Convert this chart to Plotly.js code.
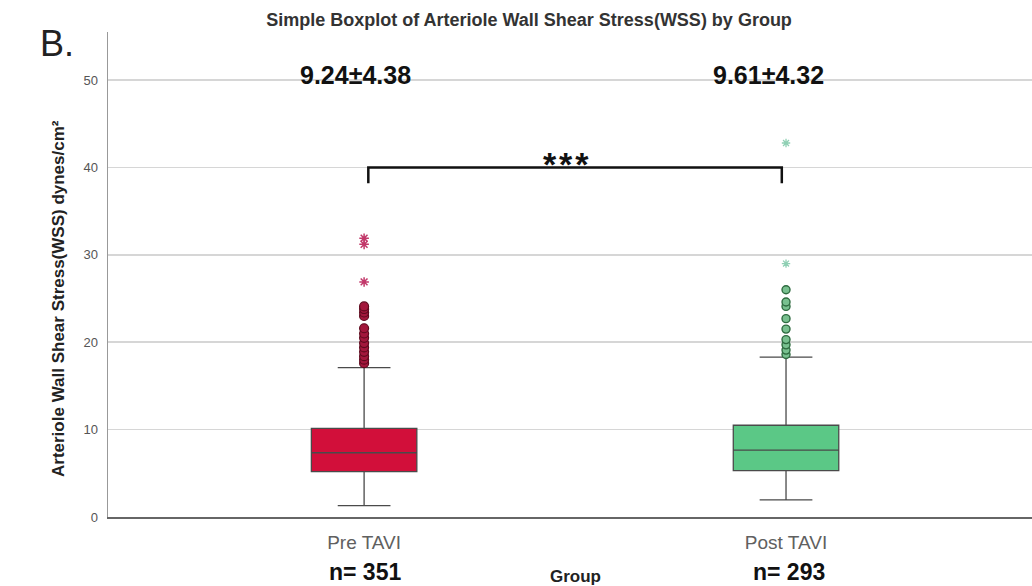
<!DOCTYPE html>
<html>
<head>
<meta charset="utf-8">
<script src="https://cdn.plot.ly/plotly-3.0.1.min.js"></script>
<style>html,body{margin:0;padding:0;background:#fff;}#chart{width:1032px;height:586px;}</style>
</head>
<body>
<div id="chart"></div>
<script>
// ---- data ----
const groups = ['Pre TAVI', 'Post TAVI'];
const q1 = [5.2, 5.3];
const medians = [7.35, 7.65];
const q3 = [10.15, 10.5];
const lowerWhisker = [1.3, 1.95];
const upperWhisker = [17.1, 18.3];
const preOutliers = [17.6, 18.0, 18.4, 18.9, 19.4, 19.9, 20.5, 21.0, 21.6, 23.0, 23.4, 23.8, 24.1];
const preExtremes = [26.9, 31.2, 31.9];
const postOutliers = [18.6, 19.1, 19.7, 20.3, 21.5, 22.7, 24.1, 24.6, 26.0];
const postExtremes = [29.0, 42.8];
const means = [9.24, 9.61];
const sds = [4.38, 4.32];
const ns = [351, 293];
const bracketY = 40;
const bracketTick = 38.2;

const fillColors = ['#d20f3a', '#5bc886'];

const traces = [];
groups.forEach((g, i) => {
  traces.push({
    type: 'box', x: [g], q1: [q1[i]], median: [medians[i]], q3: [q3[i]],
    lowerfence: [lowerWhisker[i]], upperfence: [upperWhisker[i]],
    width: 0.25, whiskerwidth: 0.5,
    fillcolor: fillColors[i], line: {color: '#4a4a4a', width: 1.3},
    boxpoints: false, hoverinfo: 'skip', showlegend: false
  });
});
traces.push({
  type: 'scatter', mode: 'markers', x: preOutliers.map(() => groups[0]), y: preOutliers,
  marker: {symbol: 'circle', size: 9, color: '#a3173c', line: {color: '#5e0a1e', width: 1.2}},
  showlegend: false, hoverinfo: 'skip'
});
traces.push({
  type: 'scatter', mode: 'markers', x: preExtremes.map(() => groups[0]), y: preExtremes,
  marker: {symbol: 'asterisk-open', size: 8, color: '#c2386a', line: {color: '#c2386a', width: 1.5}},
  showlegend: false, hoverinfo: 'skip'
});
traces.push({
  type: 'scatter', mode: 'markers', x: postOutliers.map(() => groups[1]), y: postOutliers,
  marker: {symbol: 'circle', size: 8, color: '#78c08f', line: {color: '#2f6b40', width: 1.4}},
  showlegend: false, hoverinfo: 'skip'
});
traces.push({
  type: 'scatter', mode: 'markers', x: postExtremes.map(() => groups[1]), y: postExtremes,
  marker: {symbol: 'asterisk-open', size: 7, color: '#8fd0b4', line: {color: '#8fd0b4', width: 1.3}},
  showlegend: false, hoverinfo: 'skip'
});

const font = 'Liberation Sans, Arial, sans-serif';
const pxLeft = 108, pxW = 924, pxTop = 32, pxH = 485;

const annotations = [];
const statShift = [-9, -18];
groups.forEach((g, i) => {
  annotations.push({
    x: i, y: 50.6, xref: 'x', yref: 'y', xshift: statShift[i],
    text: '<b>' + means[i].toFixed(2) + '±' + sds[i].toFixed(2) + '</b>',
    showarrow: false, font: {family: font, size: 25, color: '#111'}, yanchor: 'middle'
  });
  annotations.push({
    x: i, y: (517 - 572) / pxH, xref: 'x', yref: 'paper', xshift: i === 0 ? 1 : 3,
    text: '<b>n= ' + ns[i] + '</b>',
    showarrow: false, font: {family: font, size: 23, color: '#111'}, yanchor: 'middle'
  });
});
annotations.push({
  x: 0.5, y: bracketY, xref: 'x', yref: 'y', yshift: -18, xshift: -9,
  text: '<b>*\u200A*\u200A*</b>', showarrow: false, font: {family: font, size: 34, color: '#111'}, yanchor: 'bottom'
});
annotations.push({
  x: (575 - pxLeft) / pxW, y: (517 - 576) / pxH, xref: 'paper', yref: 'paper',
  text: '<b>Group</b>', showarrow: false, font: {family: font, size: 17, color: '#222'}, yanchor: 'middle'
});
annotations.push({
  x: (38 - pxLeft) / pxW, y: (517 - 43) / pxH, xref: 'paper', yref: 'paper',
  text: 'B.', showarrow: false, font: {family: font, size: 36, color: '#222'}, yanchor: 'middle'
});
annotations.push({
  x: (58 - pxLeft) / pxW, y: (517 - 299) / pxH, xref: 'paper', yref: 'paper', textangle: -90,
  text: '<b>Arteriole Wall Shear Stress(WSS) dynes/cm²</b>', showarrow: false,
  font: {family: font, size: 17, color: '#222'}, xanchor: 'center', yanchor: 'middle'
});

const shapes = [{
  type: 'path', xref: 'x', yref: 'y',
  path: 'M 0.01 ' + bracketTick + ' L 0.01 ' + bracketY + ' L 0.99 ' + bracketY + ' L 0.99 ' + bracketTick,
  line: {color: '#111', width: 2.5}
}];

const layout = {
  width: 1032, height: 586,
  margin: {l: pxLeft, r: 0, t: pxTop, b: 69, pad: 0},
  paper_bgcolor: '#fff', plot_bgcolor: '#fff',
  title: {text: '<b>Simple Boxplot of Arteriole Wall Shear Stress(WSS) by Group</b>',
    x: 529 / 1032, xref: 'container', xanchor: 'center', y: 1 - 20 / 586, yanchor: 'middle',
    font: {family: font, size: 18, color: '#333'}},
  xaxis: {type: 'category', range: [-0.607, 1.583], showgrid: false, zeroline: false,
    showline: true, linecolor: '#666', linewidth: 1.5, ticks: '',
    tickfont: {family: font, size: 19, color: '#606060'}, ticklabelstandoff: 8},
  yaxis: {range: [0, 55.5], tickvals: [0, 10, 20, 30, 40, 50], showgrid: true,
    gridcolor: '#d6d6d6', gridwidth: 1.5, zeroline: false, showline: true,
    linecolor: '#999', linewidth: 1.5, ticks: '',
    tickfont: {family: font, size: 13, color: '#555'}, ticklabelstandoff: 6},
  showlegend: false,
  annotations: annotations,
  shapes: shapes
};

Plotly.newPlot('chart', traces, layout, {staticPlot: true});
</script>
</body>
</html>
